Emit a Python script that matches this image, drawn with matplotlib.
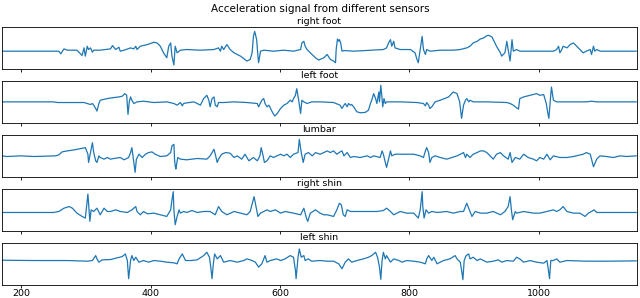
import matplotlib
matplotlib.use('Agg')
import matplotlib.pyplot as plt
import numpy as np

# sample index and acceleration (arbitrary units)
right_foot_x = [170, 258, 261, 266, 271, 286, 294, 297, 299, 302, 304, 307, 310, 312, 322, 338, 341, 346,
                351, 353, 359, 369, 374, 377, 379, 384, 395, 405, 410, 415, 420, 425, 428, 431, 433, 436,
                438, 441, 446, 456, 477, 498, 505, 508, 510, 513, 518, 523, 529, 539, 549, 554, 557, 559,
                561, 564, 566, 567, 570, 575, 590, 606, 621, 632, 634, 637, 639, 642, 647, 655, 660, 662,
                668, 673, 678, 683, 686, 687, 689, 691, 692, 694, 696, 699, 714, 740, 760, 765, 768, 771,
                773, 776, 778, 786, 802, 809, 812, 814, 817, 820, 822, 825, 827, 832, 848, 868, 879, 889,
                894, 899, 905, 910, 915, 920, 923, 928, 930, 935, 941, 943, 948, 951, 953, 956, 959, 961,
                966, 971, 1023, 1028, 1031, 1033, 1036, 1038, 1044, 1049, 1054, 1059, 1064, 1069, 1074,
                1080, 1082, 1085, 1087, 1090, 1095, 1151]
right_foot_y = [-10, -10, -18, -3, -7, -7, -23, 0, -25, 5, -5, 0, -13, -7, -7, -3, 7, -5,
                2, -10, -7, 0, -3, 5, -5, 5, 10, 17, 15, 5, -15, -30, 5, 15, -25, -52,
                5, -15, -7, -5, -7, -5, 0, -10, 5, -5, 10, -5, -15, -25, -40, -35, -15, 35,
                50, 25, -25, -45, -10, -7, -10, -7, -10, -5, 15, 20, 5, -5, -15, -30, -37, -35,
                -30, -20, -35, -40, -45, -5, 27, 20, 25, 15, -10, -8, -10, -7, -5, 0, 15, 25,
                5, 20, 0, -5, -5, -15, -35, -45, -5, 35, -5, -20, -5, -10, -7, -7, -5, 0,
                5, 15, 20, 27, 30, 37, 38, 33, 25, 5, -15, -25, -15, 20, -5, -40, 25, -10,
                -5, -10, -10, -5, 5, -15, -5, 5, 0, 10, 15, 5, -5, -15, -10,
                -5, -20, 5, -10, -5, -10, -10]

left_foot_x = [170, 250, 256, 297, 307, 310, 312, 315, 317, 320, 322, 333, 343, 351, 356, 360, 363, 364,
               365, 367, 369, 371, 374, 379, 389, 405, 425, 436, 441, 446, 449, 451, 456, 467, 477, 482,
               487, 490, 492, 495, 498, 500, 503, 505, 513, 529, 549, 565, 567, 572, 575, 577, 580, 583,
               588, 592, 596, 601, 606, 611, 616, 619, 621, 624, 626, 629, 632, 634, 637, 642, 649, 662,
               683, 693, 696, 699, 701, 704, 706, 709, 711, 714, 719, 724, 732, 737, 740, 742, 745, 748,
               750, 753, 754, 756, 758, 759, 761, 763, 765, 786, 812, 822, 825, 827, 830, 832, 835, 840,
               848, 861, 868, 874, 878, 881, 884, 887, 889, 892, 894, 899, 920, 951, 956, 961, 966, 969,
               971, 977, 987, 997, 1002, 1008, 1012, 1014, 1016, 1018, 1020, 1023, 1028, 1074, 1082,
               1090, 1151]
left_foot_y = [0, 0, -2, -2, -8, -5, -10, -20, -28, -5, 5, 10, 13, 15, 17, 25, 20, -10,
               -38, 0, 15, 5, -5, 0, 2, -2, 0, -5, -10, -2, -12, -5, -3, 0, -10, 10,
               20, 5, -15, 10, 15, -10, -15, -2, -2, 0, -2, -5, -15, 5, 10, -5, -15, -10,
               -30, -43, -35, -20, -10, -5, 5, 0, 10, 20, 40, 5, -35, 5, 0, -5, 0, 0,
               -2, -10, -20, -10, -5, -15, -5, -10, -8, -15, -30, -33, -32, -25, -5, 5, 25, 10,
               -5, 30, 0, 50, 10, -15, 10, -5, 0, 0, -2, -5, -12, -2, -10, -20, -15, 0,
               5, 15, 30, 25, 0, -50, -10, 5, 10, 0, 5, 0, 0, -2, -5, -10, -18, -22,
               10, 15, 20, 25, 20, 22, -5, -30, -50, 0, 45, 5, 0, 0, 2,
               0, 0]

lumbar_x = [170, 178, 199, 220, 253, 258, 263, 271, 281, 292, 299, 303, 304, 307, 310, 312, 315, 317,
            320, 322, 328, 333, 338, 343, 353, 359, 366, 369, 371, 374, 376, 378, 382, 387, 392, 397,
            402, 407, 415, 425, 431, 433, 436, 437, 438, 439, 442, 446, 456, 472, 487, 492, 498, 500,
            503, 505, 510, 516, 523, 529, 534, 541, 546, 552, 559, 565, 569, 571, 574, 576, 580, 585,
            590, 601, 606, 611, 616, 621, 628, 630, 633, 636, 639, 644, 650, 655, 662, 668, 673, 678,
            683, 688, 693, 696, 699, 704, 709, 714, 724, 735, 740, 745, 755, 758, 760, 763, 765, 768,
            771, 773, 778, 786, 796, 807, 817, 822, 825, 827, 830, 832, 835, 840, 848, 858, 866, 874,
            884, 887, 889, 894, 899, 905, 910, 915, 920, 925, 930, 935, 941, 946, 953, 956, 959, 964,
            971, 977, 984, 992, 997, 1002, 1008, 1013, 1018, 1023, 1033, 1044, 1054, 1069, 1074, 1080,
            1085, 1090, 1095, 1105, 1116, 1126, 1136, 1151]
lumbar_y = [0, -2, 0, -2, 0, 3, 12, 15, 18, 22, 25, 5, -20, 10, 40, 10, -15, -20,
            0, -5, -10, -5, -10, -8, -5, -12, -5, 10, 25, -20, -50, -10, 5, -5, 5, 10,
            12, 5, -2, 0, 10, 30, 35, -10, -30, -40, -5, -10, -12, -8, -10, 0, 20, 5,
            -20, -10, 5, 10, 8, -5, 0, -10, 5, -15, -5, -15, 0, 25, 0, -20, -15, 0,
            -5, 5, 0, 5, -5, 5, 10, 50, 10, -20, 5, 10, 0, 10, 5, 10, 15, 10,
            15, 5, 12, 15, 0, 10, -5, -2, -5, 0, -5, 0, -5, 15, 5, -20, -35, -10,
            15, 0, 5, 5, 5, 5, 0, -5, 15, 25, 10, -20, -5, 0, -5, -10, -5, 0,
            10, -5, 5, -5, 5, 10, 15, 15, 10, 0, -10, 5, 10, 0, -10, 10, -20, -5,
            -10, 5, -5, -10, -15, -5, -10, 5, -12, 0, -5, -5, -2, 5, 10, 5,
            -33, -10, 0, -2, -5, 0, -2, 0]

right_shin_x = [170, 250, 258, 266, 274, 279, 286, 294, 299, 301, 303, 305, 306, 308, 312, 317, 322, 328,
                333, 338, 346, 353, 364, 371, 377, 379, 384, 389, 395, 405, 415, 425, 431, 433, 435, 436,
                438, 441, 444, 446, 451, 456, 464, 472, 482, 492, 500, 505, 510, 518, 529, 539, 549, 554,
                560, 563, 566, 570, 575, 580, 585, 593, 601, 608, 616, 621, 632, 637, 641, 643, 647, 655,
                662, 668, 673, 683, 688, 692, 695, 698, 701, 704, 709, 719, 729, 750, 760, 765, 771, 776,
                786, 796, 807, 814, 817, 820, 821, 823, 826, 830, 835, 843, 858, 868, 879, 884, 889, 893,
                897, 902, 910, 920, 930, 941, 948, 953, 956, 958, 960, 964, 966, 977, 992, 1002, 1013,
                1023, 1028, 1033, 1038, 1044, 1054, 1064, 1072, 1077, 1082, 1086, 1090, 1105, 1151]
right_shin_y = [-8, -8, -5, 5, 10, 5, -10, -20, -25, 10, 48, -10, -35, 0, -5, 5, -15, 5,
                -5, -5, 0, -5, -8, 0, 10, -5, -15, -5, -12, -10, -15, -20, 0, 30, 55, 0,
                -45, -20, 0, -10, -5, -8, -2, -8, -5, -5, -15, 10, -5, -15, -5, -10, -15, -5,
                40, 10, -20, -10, -5, 0, -5, 0, -10, -5, -8, -10, -15, 5, -25, -35, -10, 0,
                -10, -15, -15, -20, 0, 20, 15, -15, -20, 0, -5, -5, -5, -5, -2, 5, -5, -15,
                -5, -10, -10, -25, 0, 55, 10, -25, 0, -10, -5, -8, -5, -10, -5, -5, 20, 0,
                -20, -5, -10, -10, -5, -15, -5, 10, 40, 0, -30, -5, -10, -5, -10, -10, -5,
                0, -5, 0, 10, -5, -10, -10, -20, -10, -5, 0, -8, -8, -8]

left_shin_x = [170, 220, 271, 302, 310, 315, 317, 320, 325, 338, 348, 356, 361, 364, 366, 369, 371, 374,
               377, 382, 389, 397, 405, 415, 425, 436, 441, 444, 449, 454, 462, 472, 482, 487, 491, 493,
               495, 497, 499, 503, 508, 513, 523, 534, 544, 549, 557, 562, 567, 572, 575, 577, 580, 585,
               595, 601, 608, 616, 621, 624, 625, 628, 630, 633, 637, 639, 644, 649, 662, 673, 683, 691,
               696, 701, 706, 711, 719, 729, 737, 742, 748, 751, 754, 756, 758, 760, 763, 765, 771, 776,
               784, 789, 796, 807, 817, 825, 827, 830, 835, 838, 843, 853, 863, 871, 874, 879, 881, 883,
               885, 888, 892, 894, 899, 905, 910, 920, 930, 938, 943, 951, 961, 966, 971, 977, 987, 997,
               1008, 1013, 1015, 1017, 1019, 1023, 1028, 1033, 1044, 1074, 1105, 1151]
left_shin_y = [11, 10, 10, 8, 10, 25, 15, 5, 12, 13, 18, 22, 30, 10, -45, 10, 25, 10,
               20, 5, 10, 5, 10, 8, 5, 3, 0, 15, 30, 10, 10, 12, 25, 35, 20, -10,
               -45, 0, 30, 15, 25, 5, 10, 5, 10, 15, 10, 5, -10, 0, 15, 25, 5, 10,
               15, 10, 15, 25, 20, -20, -45, 20, 45, 20, 25, 10, 15, 8, 10, 8, 8, 0,
               -15, 5, 15, 5, 10, 15, 20, 25, 35, 20, -10, -47, 10, 35, 15, 25, 5, 15,
               10, 5, 10, 8, 5, 0, 15, 25, 10, 20, 0, 10, 15, 25, 15, 5, -20, -48,
               10, 25, 30, 15, 20, 10, 15, 5, 8, 12, 5, 10, 8, 20, 15, 5, 10, 5,
               2, 10, -15, -45, 10, 10, 15, 5, 10, 8, 8, 9]

sensor_names = ['right foot', 'left foot', 'lumbar', 'right shin', 'left shin']
signals_x = [right_foot_x, left_foot_x, lumbar_x, right_shin_x, left_shin_x]
signals_y = [right_foot_y, left_foot_y, lumbar_y, right_shin_y, left_shin_y]
x_ticks = [200, 400, 600, 800, 1000]

plt.rcParams['font.size'] = 6.5

fig, axes = plt.subplots(5, 1, sharex=True, sharey=True, figsize=(6.4, 2.98), dpi=100)
fig.subplots_adjust(left=0.003, right=0.995, bottom=0.045, top=0.909, hspace=0.3)

for ax, name, xs, ys in zip(axes, sensor_names, signals_x, signals_y):
    ax.plot(np.array(xs), np.array(ys), color='#1f77b4', linewidth=0.9)
    ax.set_title(name, fontsize=6.8, pad=2.5)
    ax.set_yticks([])
    ax.tick_params(axis='x', length=2.2, width=0.6, pad=1.0, labelsize=6.8)
    for spine in ax.spines.values():
        spine.set_linewidth(0.6)

axes[0].set_xlim(170, 1152)
axes[0].set_ylim(-63, 63)
axes[-1].set_xticks(x_ticks)
fig.suptitle('Acceleration signal from different sensors', fontsize=7.5, y=0.988)

fig.savefig('out.png')
